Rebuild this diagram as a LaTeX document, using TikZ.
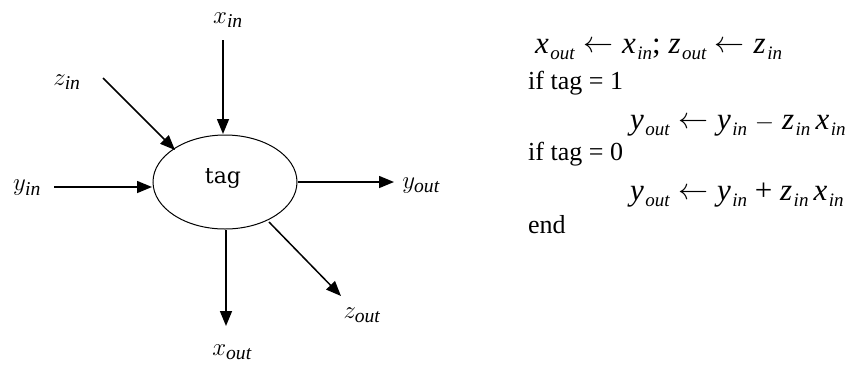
\documentclass[tikz,border=0pt]{standalone}
\usepackage{graphicx}
\usepackage{fontspec}
\setmainfont{Liberation Serif}
\newfontfamily\tagfont{DejaVu Serif}
\usetikzlibrary{arrows.meta,shapes.geometric}
\newcommand{\vv}[2]{\textit{#1}\kern1.5pt\raisebox{-6pt}{\fontsize{19}{19}\selectfont\textit{#2}}}
\newcommand{\lar}{\hspace{8pt}\raisebox{1pt}{\resizebox{30pt}{!}{$\leftarrow$}}\hspace{9pt}}
\newcommand{\lv}[2]{$#1_{\mathit{#2}}$}
\tikzset{
  conn/.style={line width=1.5pt,-{Triangle[length=15pt,width=12pt]}},
  lab/.style={inner sep=0pt,font=\fontsize{28}{28}\selectfont},
  code/.style={anchor=base west,inner sep=0pt,font=\fontsize{26}{26}\selectfont},
  mcode/.style={anchor=base west,inner sep=0pt,font=\fontsize{31}{31}\selectfont}
}
\begin{document}
\begin{tikzpicture}[x=1pt,y=-1pt]
\useasboundingbox (0,0) rectangle (855,376);
\node[draw,line width=1pt,ellipse,minimum width=144pt,minimum height=94pt,inner sep=0pt] (t) at (225,182) {};
\node[inner sep=0pt,font=\tagfont\fontsize{22}{22}\selectfont] (tagtxt) at (223,178) {tag};
% labels
\node[lab] (xin) at (228,20) {\lv{x}{in}};
\node[lab] (zin) at (67,82) {\lv{z}{in}};
\node[lab] (yin) at (27,188) {\lv{y}{in}};
\node[lab] (yout) at (421,186) {\lv{y}{out}};
\node[lab] (xout) at (232,352) {\lv{x}{out}};
\node[lab] (zout) at (362,315) {\lv{z}{out}};
% connector ends
\coordinate (xinA) at (223,40);  \coordinate (xinB) at (223,134);
\coordinate (zinA) at (103,78);  \coordinate (zinB) at (175,150);
\coordinate (yinA) at (54,187);  \coordinate (yinB) at (152,187);
\coordinate (youtA) at (298,182); \coordinate (youtB) at (394,182);
\coordinate (xoutA) at (226,230); \coordinate (xoutB) at (226,326);
\coordinate (zoutA) at (269,222); \coordinate (zoutB) at (341,296);
\draw[conn] (xinA) -- (xinB);
\draw[conn] (zinA) -- (zinB);
\draw[conn] (yinA) -- (yinB);
\draw[conn] (youtA) -- (youtB);
\draw[conn] (xoutA) -- (xoutB);
\draw[conn] (zoutA) -- (zoutB);
% algorithm text
\node[mcode] (l1) at (535,53) {\vv{x}{out}\lar\vv{x}{in}; \vv{z}{out}\lar\vv{z}{in}};
\node[code] (l2) at (528,89) {if tag = 1};
\node[mcode] (l3) at (630,129) {\vv{y}{out}\lar\vv{y}{in}\hspace{0.25em}$-$\hspace{0.25em}\vv{z}{in}\,\vv{x}{in}};
\node[code] (l4) at (528,160) {if tag = 0};
\node[mcode] (l5) at (630,200) {\vv{y}{out}\lar\vv{y}{in}\hspace{0.25em}+\hspace{0.25em}\vv{z}{in}\,\vv{x}{in}};
\node[code] (l6) at (528,233) {end};
\end{tikzpicture}
\end{document}
